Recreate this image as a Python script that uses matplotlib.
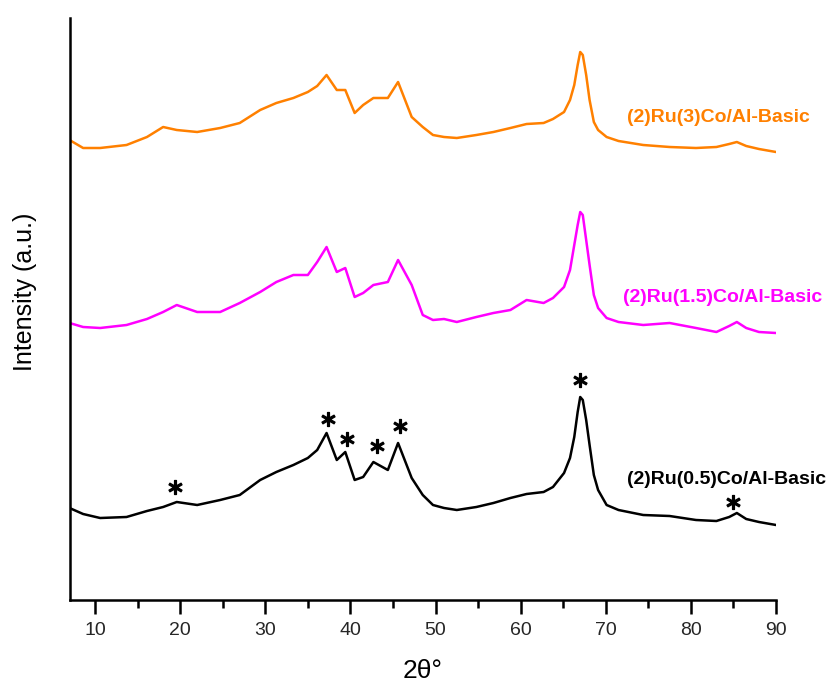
import matplotlib
matplotlib.use("Agg")
import matplotlib.pyplot as plt

plt.rcParams['font.family'] = ['Liberation Sans', 'DejaVu Sans']

# 2-theta sampling positions (degrees)
two_theta = [7, 8.6, 10.6, 13.7, 16.1, 18, 19.6, 22, 24.7, 27, 29.4, 31.3, 33.3,
             35, 36.1, 37.2, 38.4, 39.4, 40.5, 41.5, 42.7, 44.4, 45.6, 47.2, 48.5,
             49.7, 51, 52.5, 54.8, 56.8, 58.8, 60.7, 62.7, 63.8, 65.1, 65.8, 66.3,
             66.7, 67.0, 67.3, 67.7, 68.1, 68.6, 69.1, 70.1, 71.5, 74.4, 77.5, 80.6,
             83, 84.5, 85.4, 86.5, 88, 90]

# Diffraction intensities (a.u.)
ru_co05 = [92, 86, 82, 83, 89, 93, 98, 95, 100, 105, 120, 128, 135, 142, 150, 167,
           140, 148, 120, 123, 138, 130, 157, 122, 105, 95, 92, 90, 93, 97, 102, 106,
           108, 113, 127, 142, 163, 188, 203, 200, 180, 155, 125, 110, 95, 90, 85,
           84, 80, 79, 83, 87, 81, 78, 75]
ru_co15 = [87, 83, 82, 85, 91, 98, 105, 98, 98, 107, 118, 128, 135, 135, 148, 163,
           138, 142, 113, 117, 125, 128, 150, 125, 95, 90, 91, 88, 93, 97, 100, 110,
           107, 112, 123, 140, 165, 185, 198, 195, 170, 145, 115, 102, 92, 88, 85,
           87, 82, 78, 84, 88, 82, 78, 77]
ru_co3 = [90, 82, 82, 85, 93, 103, 100, 98, 102, 107, 120, 127, 132, 138, 144, 155,
          140, 140, 117, 125, 132, 132, 148, 113, 103, 95, 93, 92, 95, 98, 102, 106,
          107, 111, 118, 130, 145, 165, 178, 175, 155, 130, 108, 100, 93, 89, 85,
          83, 82, 83, 86, 88, 84, 81, 78]

series_names = ['(2)Ru(0.5)Co/Al-Basic', '(2)Ru(1.5)Co/Al-Basic', '(2)Ru(3)Co/Al-Basic']
series_values = [ru_co05, ru_co15, ru_co3]
series_offsets = [0, 190, 370]
series_colors = ['black', '#ff00ff', '#ff8000']
label_positions = [(72.5, 121), (72.0, 302), (72.5, 482)]

# Marked reflections on the lowest pattern
star_angles = [19.4, 37.4, 39.6, 43.1, 45.8, 67.0, 85.0]
star_heights = [113, 181, 161, 154, 174, 220, 98]

fig = plt.figure(figsize=(8.39, 6.88), dpi=100)
ax = fig.add_axes([69.5 / 839, 88 / 688, 706.5 / 839, 582 / 688])

for vals, off, col, name, (lx, ly) in zip(series_values, series_offsets,
                                          series_colors, series_names,
                                          label_positions):
    ax.plot(two_theta, [v + off for v in vals], color=col, lw=1.8,
            solid_joinstyle='round')
    ax.text(lx, ly, name, color=col, fontsize=14, fontweight='bold',
            ha='left', va='center', clip_on=False)

ax.plot(star_angles, star_heights, linestyle='none', marker=r'$\ast$',
        markersize=10, color='black')

ax.set_xlim(7, 90)
ax.set_ylim(0, 582)
ax.set_xticks(range(10, 91, 10))
ax.set_xticks(range(15, 90, 10), minor=True)
ax.set_yticks([])
ax.tick_params(axis='x', which='major', direction='out', length=10, width=1.8,
               labelsize=14, labelcolor='#262626', pad=6)
ax.tick_params(axis='x', which='minor', direction='out', length=5.5, width=1.8)

for side in ('top', 'right'):
    ax.spines[side].set_visible(False)
for side in ('left', 'bottom'):
    ax.spines[side].set_linewidth(1.8)

ax.set_xlabel('2θ°', fontsize=19, labelpad=14)
ax.set_ylabel('Intensity (a.u.)', fontsize=18)
ax.yaxis.set_label_coords(-0.046, 0.53)

fig.savefig('out.png', dpi=100)
